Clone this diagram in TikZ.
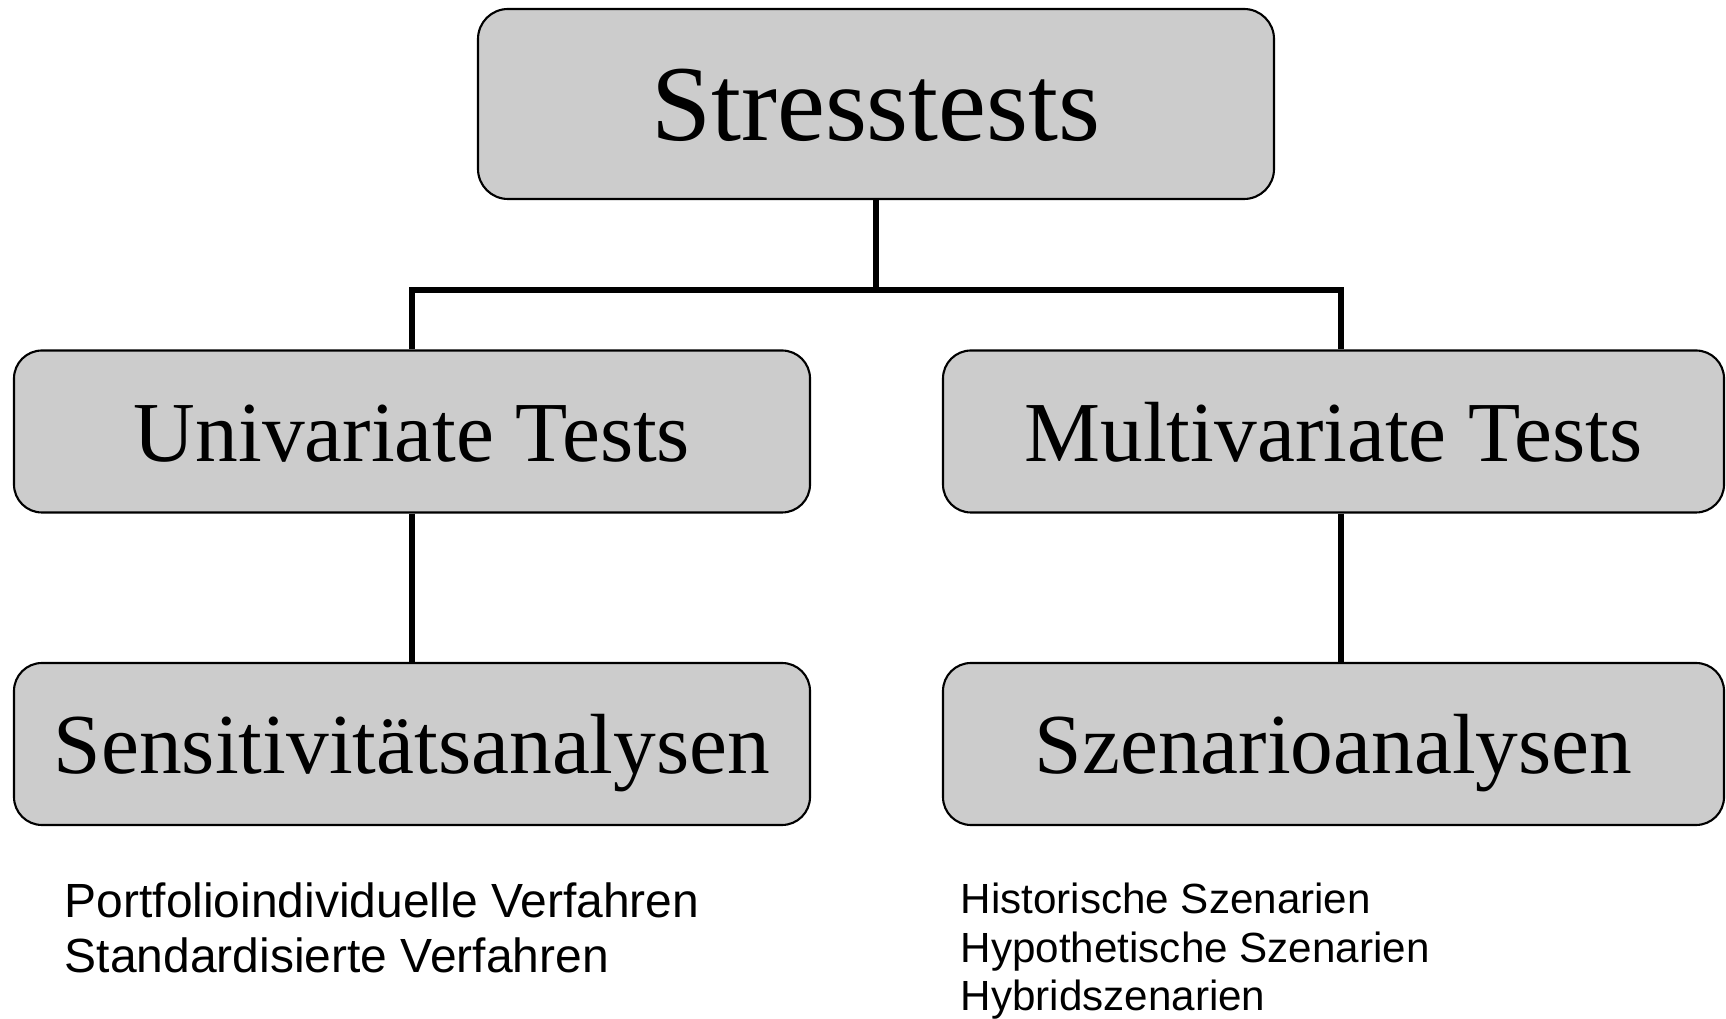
\documentclass[tikz,border=0pt]{standalone}
\usepackage{fontspec}
\setmainfont{Liberation Serif}
\setsansfont{Liberation Sans}
\definecolor{boxgray}{gray}{0.8}
\begin{document}
\begin{tikzpicture}[x=1cm,y=1cm,
  testbox/.style={draw,line width=0.6pt,fill=boxgray,rounded corners=0.28cm,
    inner sep=0pt,minimum height=1.62cm,font=\fontsize{24.3}{28}\selectfont,
    text height=17pt,text depth=0pt},
  conn/.style={line width=1.7pt},
  listtext/.style={inner sep=0pt,anchor=north west,align=left,font=\sffamily}]
\useasboundingbox (0,0) rectangle (17.26,10.19);

\node[testbox,minimum width=7.96cm,minimum height=1.90cm,rounded corners=0.3cm,
  font=\fontsize{30.7}{34}\selectfont,text height=21pt] (stress) at (8.76,9.15) {Stresstests};

\node[testbox,minimum width=7.96cm] (uni) at (4.12,5.875) {Univariate Tests};
\node[testbox,minimum width=7.81cm] (multi) at (13.335,5.875) {Multivariate Tests};

\node[testbox,minimum width=7.96cm] (sens) at (4.12,2.75) {Sensitivitätsanalysen};
\node[testbox,minimum width=7.81cm] (szen) at (13.335,2.75) {Szenarioanalysen};

\coordinate (split) at (8.76,7.29);
\draw[conn] (stress.south)--(split);
\draw[conn] (split) -| (uni.north);
\draw[conn] (split) -| ([xshift=0.075cm]multi.north);
\draw[conn] (uni.south)--(sens.north);
\draw[conn] ([xshift=0.075cm]multi.south)--([xshift=0.075cm]szen.north);

\node[listtext,font=\sffamily\fontsize{13.65}{15.6}\selectfont] (sensnotes) at (0.64,1.37)
  {Portfolioindividuelle Verfahren\\Standardisierte Verfahren};
\node[listtext,font=\sffamily\fontsize{12}{13.9}\selectfont] (szennotes) at (9.6,1.37)
  {Historische Szenarien\\Hypothetische Szenarien\\Hybridszenarien};
\end{tikzpicture}
\end{document}
